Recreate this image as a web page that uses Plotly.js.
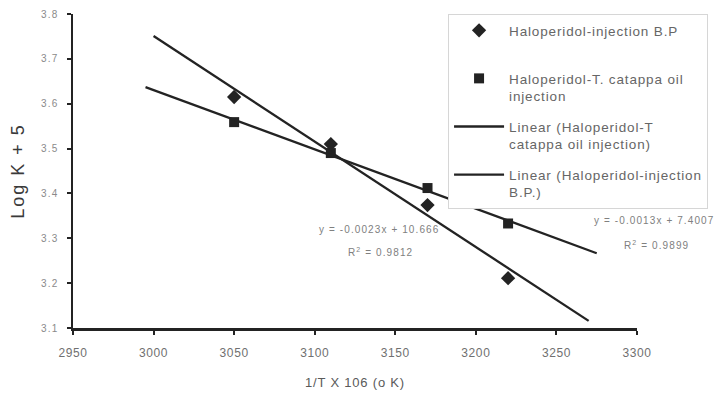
<!DOCTYPE html>
<html>
<head>
<meta charset="utf-8">
<script src="https://cdn.plot.ly/plotly-3.0.1.min.js"></script>
<style>
html,body{margin:0;padding:0;background:#fff;}
#chart{width:720px;height:399px;}
text.legendtext{letter-spacing:0.85px;}
text.annotation-text{letter-spacing:1.1px;}
.xtick text{letter-spacing:0.6px;}
.ytick text{letter-spacing:1.2px;}
text.xtitle{letter-spacing:0.8px;}
text.ytitle{letter-spacing:2px;}
</style>
</head>
<body>
<div id="chart"></div>
<script>
// Data
const xValues = [3050, 3110, 3170, 3220];              // 1/T x 10^6 (K)
const logK_BP = [3.615, 3.51, 3.374, 3.211];           // Haloperidol-injection B.P.
const logK_Oil = [3.559, 3.49, 3.412, 3.333];          // Haloperidol-T. catappa oil injection
const fitRangeBP = [3000, 3270];
const fitRangeOil = [2995, 3275];
const seriesNames = [
  'Haloperidol-injection B.P<br> ',
  'Haloperidol-T. catappa oil<br>injection',
  'Linear (Haloperidol-T<br>catappa oil injection)',
  'Linear (Haloperidol-injection<br>B.P.)'
];
const eqBP = ['y = -0.0023x + 10.666', 'R<sup>2</sup> = 0.9812'];
const eqOil = ['y = -0.0013x + 7.4007', 'R<sup>2</sup> = 0.9899'];
const xTicks = [2950, 3000, 3050, 3100, 3150, 3200, 3250, 3300];
const yTicks = [3.1, 3.2, 3.3, 3.4, 3.5, 3.6, 3.7, 3.8];

function linfit(xs, ys) {
  const n = xs.length;
  const mx = xs.reduce((a, b) => a + b, 0) / n;
  const my = ys.reduce((a, b) => a + b, 0) / n;
  let sxy = 0, sxx = 0;
  for (let i = 0; i < n; i++) { sxy += (xs[i] - mx) * (ys[i] - my); sxx += (xs[i] - mx) ** 2; }
  const m = sxy / sxx;
  return { m: m, b: my - m * mx };
}
const fBP = linfit(xValues, logK_BP);
const fOil = linfit(xValues, logK_Oil);

const ink = '#232323';
const font = 'Liberation Sans, Arial, sans-serif';

const traces = [
  { x: xValues, y: logK_BP, mode: 'markers', type: 'scatter', name: seriesNames[0], legendgroup: 'a',
    marker: { symbol: 'diamond', size: 11, color: ink } },
  { x: xValues, y: logK_Oil, mode: 'markers', type: 'scatter', name: seriesNames[1], legendgroup: 'b',
    marker: { symbol: 'square', size: 10, color: ink } },
  { x: fitRangeOil, y: fitRangeOil.map(v => fOil.m * v + fOil.b), mode: 'lines', type: 'scatter',
    name: seriesNames[2], legendgroup: 'c', line: { color: ink, width: 2.3 } },
  { x: fitRangeBP, y: fitRangeBP.map(v => fBP.m * v + fBP.b), mode: 'lines', type: 'scatter',
    name: seriesNames[3], legendgroup: 'd', line: { color: ink, width: 2.3 } }
];

const annFont = { family: font, size: 10, color: '#808080' };
const layout = {
  width: 720, height: 399,
  margin: { l: 73, r: 83, t: 14, b: 71, autoexpand: false },
  paper_bgcolor: '#ffffff', plot_bgcolor: '#ffffff',
  showlegend: true,
  legend: {
    x: 0.665, y: 1.0, xanchor: 'left', yanchor: 'top',
    bgcolor: '#ffffff', bordercolor: '#d6d6d6', borderwidth: 1,
    font: { family: font, size: 13.5, color: '#666666' },
    tracegroupgap: 10, itemwidth: 50, valign: 'top'
  },
  xaxis: {
    range: [2950, 3300], tickvals: xTicks, ticks: 'outside', ticklen: 4, tickwidth: 2, tickcolor: ink,
    showline: true, linecolor: ink, linewidth: 2.5, showgrid: false, zeroline: false,
    ticklabelstandoff: 8,
    tickfont: { family: font, size: 12, color: '#707070' },
    title: { text: '1/T X 106 (o K)', font: { family: font, size: 13, color: '#5a5a5a' }, standoff: 19 }
  },
  yaxis: {
    range: [3.1, 3.8], tickvals: yTicks, tickformat: '.1f', ticks: 'outside', ticklen: 4, tickwidth: 2, tickcolor: ink,
    showline: true, linecolor: ink, linewidth: 2.5, showgrid: false, zeroline: false,
    ticklabelstandoff: 6,
    tickfont: { family: font, size: 10, color: '#8a8a8a' },
    title: { text: 'Log K + 5', font: { family: font, size: 18, color: '#3a3a3a' }, standoff: 12 }
  },
  annotations: [
    { xref: 'paper', yref: 'paper', x: (379 - 73) / 564, y: (328 - 237) / 314, xanchor: 'center', text: eqBP[0], showarrow: false, font: annFont },
    { xref: 'paper', yref: 'paper', x: (380 - 73) / 564, y: (328 - 260) / 314, xanchor: 'center', text: eqBP[1], showarrow: false, font: annFont },
    { xref: 'paper', yref: 'paper', x: (654 - 73) / 564, y: (328 - 228) / 314, xanchor: 'center', text: eqOil[0], showarrow: false, font: annFont },
    { xref: 'paper', yref: 'paper', x: (656 - 73) / 564, y: (328 - 253) / 314, xanchor: 'center', text: eqOil[1], showarrow: false, font: annFont }
  ]
};

Plotly.newPlot('chart', traces, layout, { displayModeBar: false, staticPlot: true });
</script>
</body>
</html>
